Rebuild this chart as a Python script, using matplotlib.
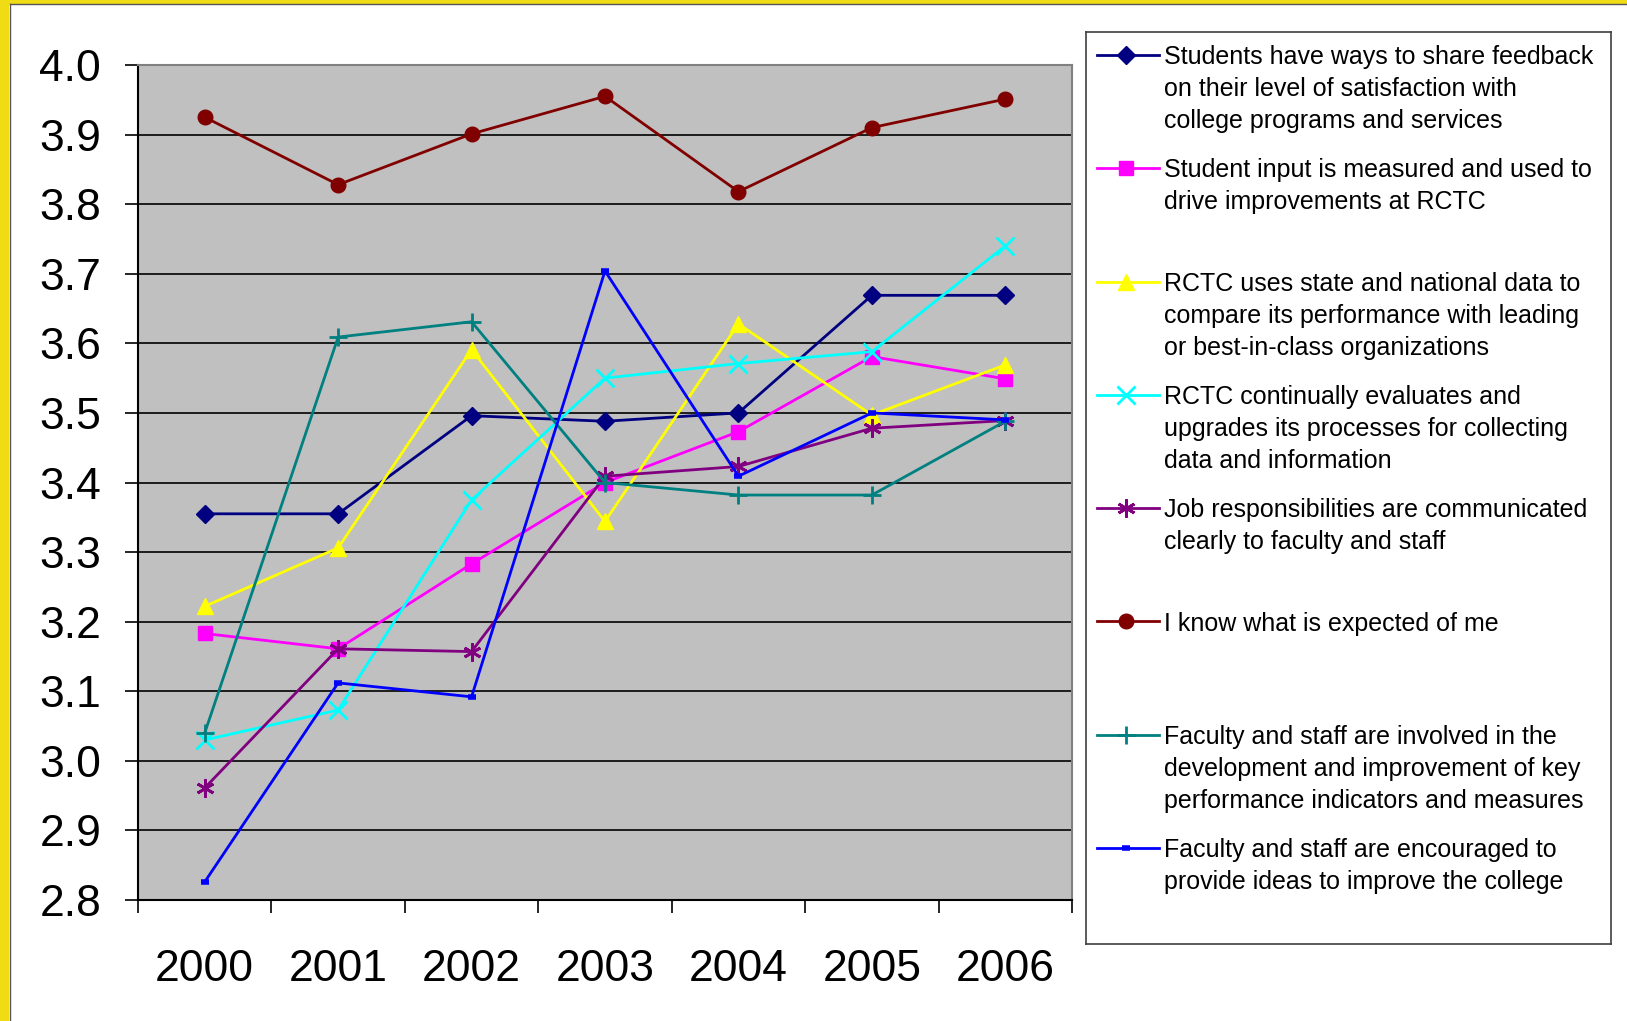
import numpy as np
import matplotlib
matplotlib.use('Agg')
import matplotlib.pyplot as plt
from matplotlib.patches import Rectangle

plt.rcParams['font.family'] = ['Liberation Sans', 'DejaVu Sans']

years = ['2000', '2001', '2002', '2003', '2004', '2005', '2006']

feedback = [3.355, 3.355, 3.496, 3.488, 3.500, 3.669, 3.669]
student_input = [3.183, 3.161, 3.283, 3.400, 3.473, 3.581, 3.549]
state_data = [3.222, 3.306, 3.591, 3.344, 3.628, 3.497, 3.569]
evaluates = [3.030, 3.073, 3.375, 3.550, 3.571, 3.588, 3.740]
job_resp = [2.961, 3.161, 3.157, 3.409, 3.423, 3.478, 3.489]
expected = [3.925, 3.828, 3.901, 3.955, 3.818, 3.910, 3.951]
involved = [3.040, 3.609, 3.631, 3.400, 3.382, 3.382, 3.488]
encouraged = [2.826, 3.112, 3.092, 3.704, 3.409, 3.500, 3.490]

labels = [
    'Students have ways to share feedback\non their level of satisfaction with\ncollege programs and services',
    'Student input is measured and used to\ndrive improvements at RCTC',
    'RCTC uses state and national data to\ncompare its performance with leading\nor best-in-class organizations',
    'RCTC continually evaluates and\nupgrades its processes for collecting\ndata and information',
    'Job responsibilities are communicated\nclearly to faculty and staff',
    'I know what is expected of me',
    'Faculty and staff are involved in the\ndevelopment and improvement of key\nperformance indicators and measures',
    'Faculty and staff are encouraged to\nprovide ideas to improve the college',
]

series = [feedback, student_input, state_data, evaluates, job_resp, expected, involved, encouraged]
colors = ['#000080', '#FF00FF', '#FFFF00', '#00FFFF', '#800080', '#800000', '#008080', '#0000FF']
markers = ['D', 's', '^', 'x', (6, 2, 0), 'o', '+', '_']
msizes = [9, 10, 12, 13, 13, 10.5, 13, 6]

W, H = 1627, 1021
fig = plt.figure(figsize=(W / 100, H / 100), dpi=100)
fig.patch.set_facecolor('white')

# yellow frame on the left and top
fig.patches.append(Rectangle((0, 0), 9 / W, 1, transform=fig.transFigure,
                             facecolor='#F0DC14', edgecolor='none'))
fig.patches.append(Rectangle((0, 1 - 4 / H), 1, 4 / H, transform=fig.transFigure,
                             facecolor='#F0DC14', edgecolor='none'))
fig.add_artist(plt.Line2D([9.5 / W, 9.5 / W], [0, 1 - 4.5 / H], transform=fig.transFigure,
                          color='#555555', lw=1))
fig.add_artist(plt.Line2D([9.5 / W, 1], [1 - 4.5 / H, 1 - 4.5 / H], transform=fig.transFigure,
                          color='#555555', lw=1))

ax = fig.add_axes([138 / W, (H - 900) / H, 934 / W, 835 / H])
ax.set_facecolor('#C0C0C0')
x = np.arange(len(years))
for ys, c, m, ms in zip(series, colors, markers, msizes):
    mew = 2 if m in ('x', '+') or isinstance(m, tuple) else 1
    if m == '_':
        mew = 4
    ax.plot(x, ys, color=c, lw=2.0, marker=m, markersize=ms,
            markeredgewidth=mew, markerfacecolor=c, markeredgecolor=c)

ax.set_xlim(-0.5, 6.5)
ax.set_ylim(2.8, 4.0)
ax.set_yticks(np.arange(2.8, 4.01, 0.1))
ax.set_yticklabels(['%.1f' % v for v in np.arange(2.8, 4.01, 0.1)])
ax.yaxis.grid(True, color='black', lw=1.2)
ax.set_axisbelow(True)
ax.tick_params(axis='y', direction='out', length=9.5, width=1.2, labelsize=32, pad=17)

ax.set_xticks(np.arange(-0.5, 7, 1))
ax.set_xticklabels([])
ax.set_xticks(x, minor=True)
ax.set_xticklabels(years, minor=True)
ax.tick_params(axis='x', which='major', direction='out', length=9, width=1.2)
ax.tick_params(axis='x', which='minor', length=0, labelsize=32, pad=35)

for s in ['top', 'right']:
    ax.spines[s].set_color('#808080')
    ax.spines[s].set_linewidth(1.5)
for s in ['left', 'bottom']:
    ax.spines[s].set_color('black')
    ax.spines[s].set_linewidth(1.5)

# legend box drawn by hand so that handles sit on the first text line
lx0, ly0, lw_, lh_ = 1086, 32, 525, 912
lax = fig.add_axes([lx0 / W, (H - ly0 - lh_) / H, lw_ / W, lh_ / H])
lax.set_xlim(0, lw_)
lax.set_ylim(lh_, 0)
lax.set_xticks([])
lax.set_yticks([])
for s in lax.spines.values():
    s.set_color('#404040')
    s.set_linewidth(1.2)
for i, (lab, c, m, ms) in enumerate(zip(labels, colors, markers, msizes)):
    yc = 23 + 113.3 * i
    mew = 2 if m in ('x', '+') or isinstance(m, tuple) else 1
    if m == '_':
        mew = 4
    lax.plot([11, 73], [yc, yc], color=c, lw=2.0, clip_on=False)
    lax.plot([40], [yc], color=c, marker=m, markersize=ms, markeredgewidth=mew,
             markerfacecolor=c, markeredgecolor=c, clip_on=False)
    lax.text(78, yc - 10, lab, fontsize=18, va='top', ha='left',
             linespacing=1.43, clip_on=False)

fig.savefig('out.png', dpi=100)
